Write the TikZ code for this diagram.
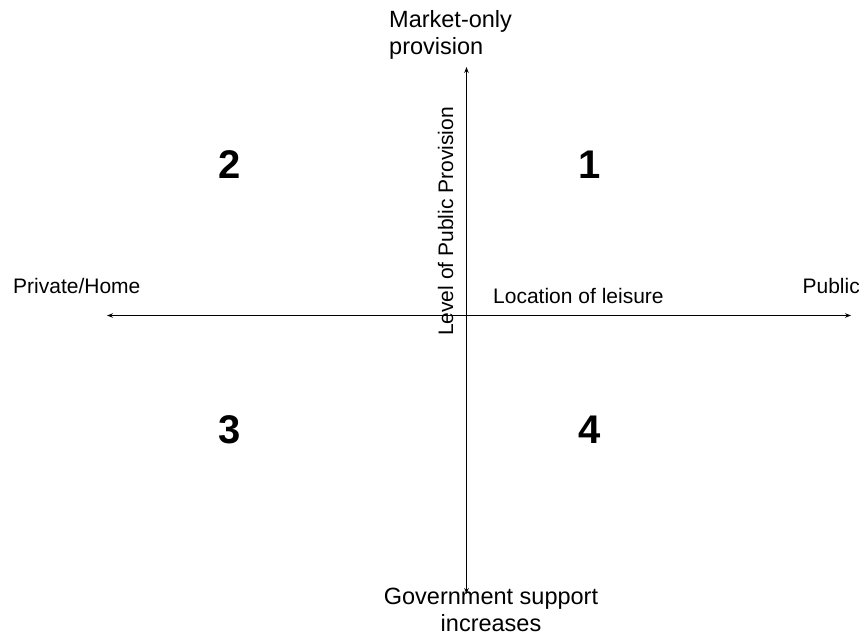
\documentclass[tikz,border=0pt]{standalone}
\usepackage{fontspec}
\setmainfont{Liberation Sans}
\usetikzlibrary{arrows.meta}
\begin{document}
\begin{tikzpicture}[x=1pt,y=-1pt,
  sidelab/.style={inner sep=0pt, font=\fontsize{21}{25}\selectfont},
  endlab/.style={inner sep=0pt, font=\fontsize{23.5}{27}\selectfont},
  num/.style={inner sep=0pt, font=\fontsize{40}{40}\selectfont\bfseries},
  axis/.style={line width=1.1pt, {Stealth[length=6pt,width=4.5pt]}-{Stealth[length=6pt,width=4.5pt]}}]
\useasboundingbox (0,0) rectangle (861,635);
\coordinate (T) at (466.5,67);
\coordinate (B) at (466.5,594);
\coordinate (L) at (107,315.5);
\coordinate (R) at (851,315.5);
\draw[axis] (T) -- (B);
\draw[axis] (L) -- (R);
\node[endlab, anchor=north west, align=left] (mkt) at (389,10) {Market-only\\provision};
\node[endlab, anchor=south, align=center] (gov) at (491,632) {Government support\\increases};
\node[sidelab, anchor=base west] (priv) at (13,293) {Private/Home};
\node[sidelab, anchor=base east] (pub) at (860,293) {Public};
\node[sidelab, anchor=base west] (loc) at (493,303) {Location of leisure};
\node[sidelab, rotate=90, anchor=base] (lev) at (453,221.5) {Level of Public Provision};
\node[num] (q1) at (590,165) {1};
\node[num] (q2) at (230,165) {2};
\node[num] (q3) at (230,430) {3};
\node[num] (q4) at (590,430) {4};
\end{tikzpicture}
\end{document}
